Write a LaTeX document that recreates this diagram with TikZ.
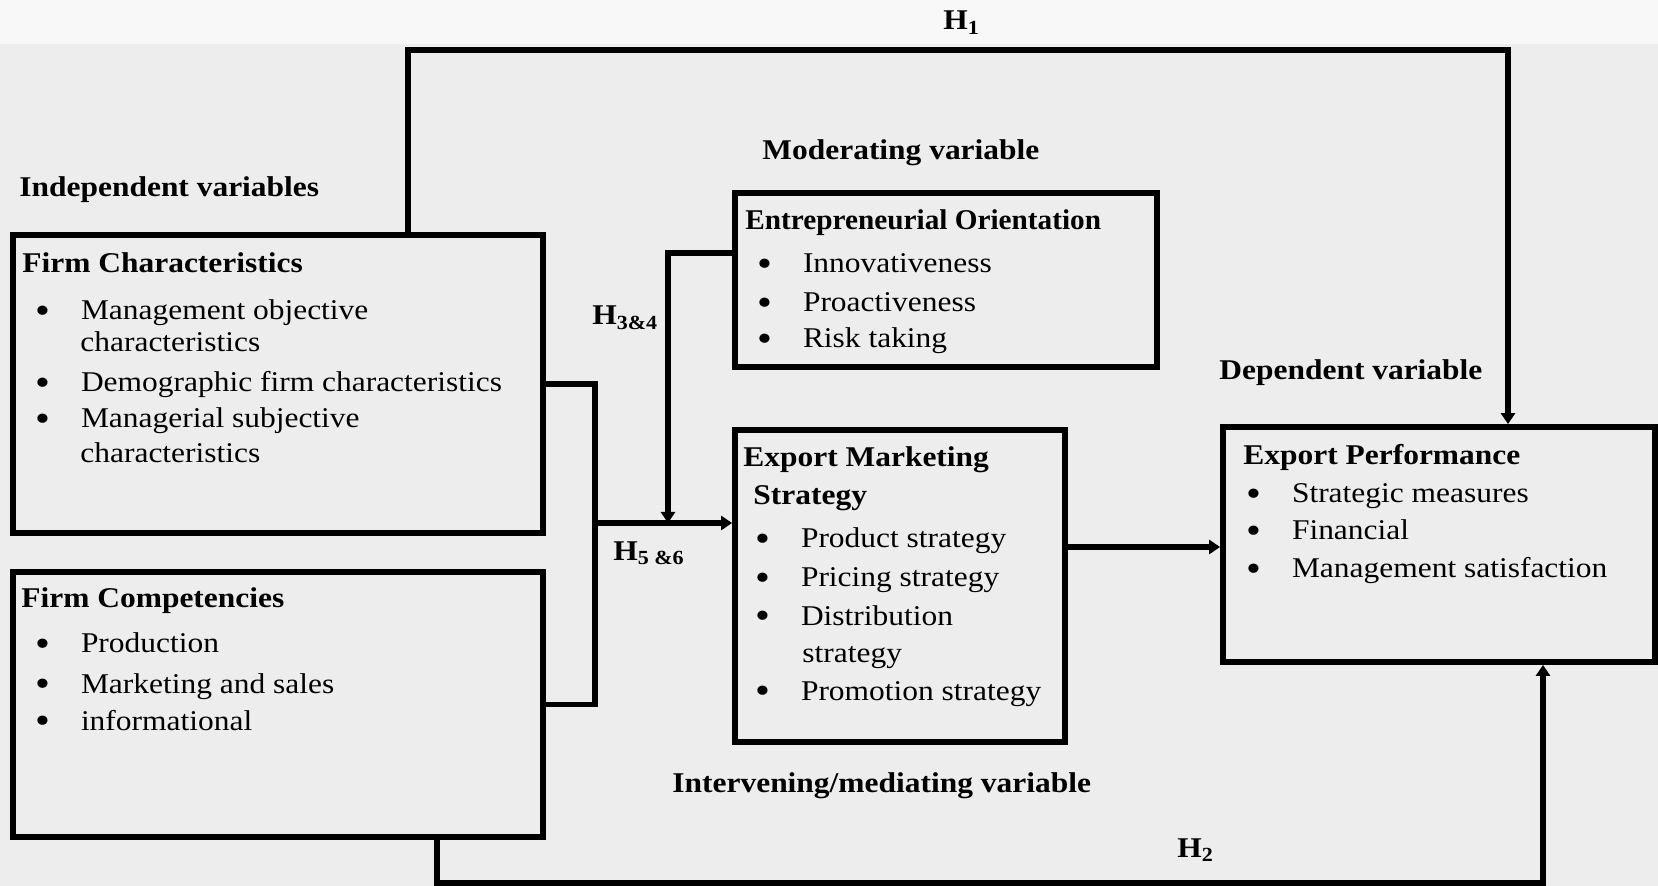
\documentclass[tikz,border=0pt]{standalone}
\usepackage{fontspec}
\setmainfont{Liberation Serif}[FakeStretch=1.1]
\usepackage{tikz}
\usetikzlibrary{arrows.meta}
\definecolor{paper}{RGB}{237,237,237}
\definecolor{paperlight}{RGB}{248,248,248}
\tikzset{box/.style={draw, line width=2.9pt, inner sep=0pt}}
\tikzset{conn/.style={line width=2.6pt}}
\tikzset{txt/.style={anchor=base west, inner sep=0pt, font=\fontsize{14.3}{17}\selectfont}}
\tikzset{head/.style={txt, font=\fontsize{14.3}{17}\selectfont\bfseries}}
\newcommand{\bul}{\makebox[22.8pt][l]{\raisebox{-1.6pt}{\scalebox{1.35}{\textbullet}}}}

\begin{document}
\begin{tikzpicture}[x=0.5pt,y=-0.5pt,>={Triangle[length=5.5pt,width=7pt]}]
    \useasboundingbox (0,0) rectangle (1658,886);
    \fill[paper] (0,0) rectangle (1658,886);
    \fill[paperlight] (0,0) rectangle (1658,44);

    % boxes
    \node[box, minimum width=265pt, minimum height=149pt] (fc) at (278,384) {};
    \node[box, minimum width=265pt, minimum height=132.5pt] (fcomp) at (278,704.5) {};
    \node[box, minimum width=211pt, minimum height=87pt] (eo) at (946,280) {};
    \node[box, minimum width=165pt, minimum height=156pt] (ems) at (900,586) {};
    \node[box, minimum width=216pt, minimum height=117.5pt] (ep) at (1439,544.5) {};

    % group titles
    \node[head] (indep) at (19,197) {Independent variables};
    \node[head] (moder) at (762,160) {Moderating variable};
    \node[head] (depend) at (1219,380) {Dependent variable};
    \node[head] (interv) at (672,792) {Intervening/mediating variable};

    % firm characteristics
    \node[head] (fchead) at (22,273) {Firm Characteristics};
    \node[txt] (fc1) at (35,320) {\bul Management objective};
    \node[txt] (fc1b) at (80,352) {characteristics};
    \node[txt] (fc2) at (35,392) {\bul Demographic firm characteristics};
    \node[txt] (fc3) at (35,428) {\bul Managerial subjective};
    \node[txt] (fc3b) at (80,463) {characteristics};

    % firm competencies
    \node[head] (fcomphead) at (21,608) {Firm Competencies};
    \node[txt] (fcomp1) at (35,653) {\bul Production};
    \node[txt] (fcomp2) at (35,693) {\bul Marketing and sales};
    \node[txt] (fcomp3) at (35,730) {\bul informational};

    % entrepreneurial orientation
    \node[head] (eohead) at (745,230) {\scalebox{0.93}[1]{Entrepreneurial Orientation}};
    \node[txt] (eo1) at (757,273) {\bul Innovativeness};
    \node[txt] (eo2) at (757,312) {\bul Proactiveness};
    \node[txt] (eo3) at (757,348) {\bul Risk taking};

    % export marketing strategy
    \node[head] (emshead) at (743,467) {Export Marketing};
    \node[head] (emshead2) at (753,505) {Strategy};
    \node[txt] (ems1) at (755,548) {\bul Product strategy};
    \node[txt] (ems2) at (755,587) {\bul Pricing strategy};
    \node[txt] (ems3) at (755,625) {\bul Distribution};
    \node[txt] (ems3b) at (802,662) {strategy};
    \node[txt] (ems4) at (755,700) {\bul Promotion strategy};

    % export performance
    \node[head] (ephead) at (1243,465) {Export Performance};
    \node[txt] (ep1) at (1246,503) {\bul Strategic measures};
    \node[txt] (ep2) at (1246,540) {\bul Financial};
    \node[txt] (ep3) at (1246,578) {\bul Management satisfaction};

    % hypotheses
    \node[head] (h1) at (943,30) {H\textsubscript{1}};
    \node[head] (h2) at (1177,857) {H\textsubscript{2}};
    \node[head] (h34) at (592,325) {H\textsubscript{3\&4}};
    \node[head] (h56) at (613,560) {H\textsubscript{5 \&6}};

    % connectors
    \coordinate (h1a) at (408,50);
    \coordinate (h1b) at (1508,50);
    \coordinate (h2a) at (437,883);
    \coordinate (h2b) at (1543,883);
    \coordinate (join) at (595,523);
    \coordinate (mod) at (668,253);
    \coordinate (mid) at (1100,547);

    \draw[conn,->] (h1a |- fc.north) -- (h1a) -- (h1b) -- (h1b |- ep.north);
    \draw[conn,->] (h2a |- fcomp.south) -- (h2a) -- (h2b) -- (h2b |- ep.south);
    \draw[conn] (fc.east) -| (join);
    \draw[conn] (fcomp.east) -| (join);
    \draw[conn,->] (join) -- (join -| ems.west);
    \draw[conn,->] (eo.west |- mod) -| (mod |- join);
    \draw[conn,->] (mid -| ems.east) -- (mid -| ep.west);
\end{tikzpicture}
\end{document}
